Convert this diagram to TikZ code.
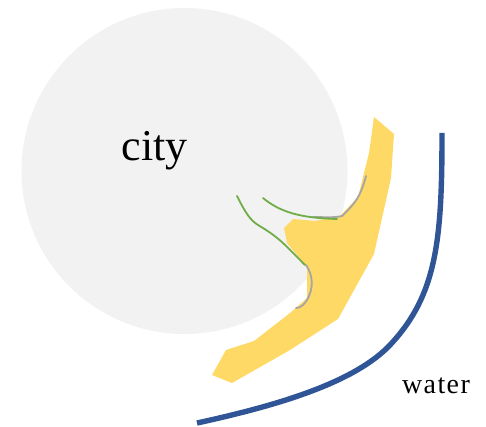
\documentclass[tikz,border=0pt]{standalone}
\usepackage{fontspec}
\setmainfont{Liberation Serif}
\definecolor{citygray}{HTML}{F2F2F2}
\definecolor{sandyellow}{HTML}{FFD966}
\definecolor{waterblue}{HTML}{2F5597}
\definecolor{pathgreen}{HTML}{70AD47}
\definecolor{pathgray}{HTML}{A5A5A5}
\tikzset{
  greenline/.style={color=pathgreen,line width=1.8pt,line cap=round},
  grayline/.style={color=pathgray,line width=1.8pt,line cap=round},
  label/.style={inner sep=0pt,anchor=base}
}
\begin{document}
\begin{tikzpicture}[x=1pt,y=-1pt]
\useasboundingbox (0,0) rectangle (486,427);
\fill[color=citygray](184.5,171) circle (163);
\fill[color=sandyellow](374,117)--(394,134)--(391,178)--(374,254)--(338,319)--(290,350)--(232,383)--(212,375)--(226,350)--(254,341)--(290,313)--(307,298)--(307,267)--(287,243)--(284,228)--(293,219)--(315,221)--(340,216)--(358,197)--(369,153)--cycle;
\draw[grayline](366,176) .. controls (361,195) and (356,203) .. (342,216) .. controls (334,218) and (324,217) .. (313,217);
\draw[grayline](306,265) .. controls (313,275) and (314,288) .. (307,300) .. controls (304,305) and (300,308) .. (296,308);
\draw[greenline](237,196) .. controls (245,212) and (250,220) .. (258,225) .. controls (280,238) and (285,245) .. (305,265);
\draw[greenline](263,198) .. controls (280,212) and (300,218) .. (337,219);
\draw[color=waterblue,line width=5.4pt](442,133) .. controls (442,240) and (437,295) .. (390,345) .. controls (355,382) and (280,405) .. (197,423);
\node[label,font=\fontsize{44}{44}\selectfont] (city) at (154.5,161) {city};
\node[label,font=\fontsize{28}{28}\selectfont\addfontfeatures{LetterSpace=5}] (water) at (436,393) {water};
\end{tikzpicture}
\end{document}
